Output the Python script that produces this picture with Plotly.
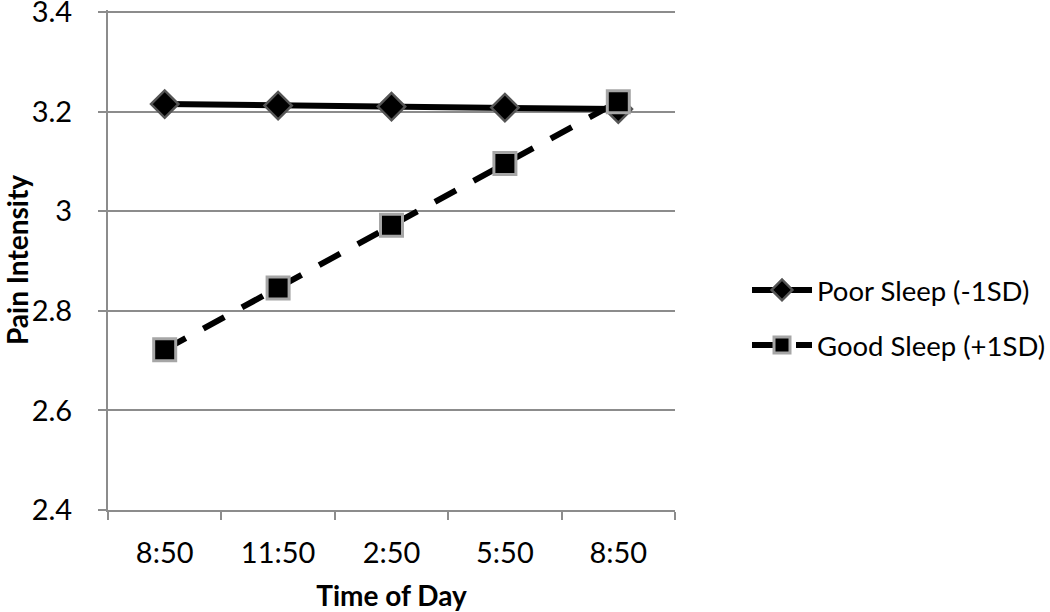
import plotly.graph_objects as go

time_labels = ["8:50", "11:50", "2:50", "5:50", "8:50"]
time_index = [0, 1, 2, 3, 4]
poor_sleep = [3.215, 3.212, 3.210, 3.208, 3.205]
good_sleep = [2.722, 2.846, 2.972, 3.096, 3.220]
y_ticks = [2.4, 2.6, 2.8, 3.0, 3.2, 3.4]
y_tick_labels = ["2.4", "2.6", "2.8", "3", "3.2", "3.4"]

font_family = "Lato, 'Open Sans', sans-serif"
grey = "#8c8c8c"

fig = go.Figure()
fig.add_trace(go.Scatter(
    x=time_index, y=poor_sleep, mode="lines+markers", name="Poor Sleep (-1SD)",
    line=dict(color="black", width=6),
    marker=dict(symbol="diamond", size=21, color="black", line=dict(color="#555555", width=2.5)),
    legend="legend", showlegend=True,
))
fig.add_trace(go.Scatter(
    x=time_index, y=good_sleep, mode="lines+markers", name="Good Sleep (+1SD)",
    line=dict(color="black", width=6, dash="24px,20px"),
    marker=dict(symbol="square", size=22, color="black", line=dict(color="#a6a6a6", width=3)),
    legend="legend2", showlegend=True,
))

fig.update_layout(
    width=1050, height=612, showlegend=True,
    margin=dict(l=108, r=375, t=10, b=102, autoexpand=False),
    paper_bgcolor="white", plot_bgcolor="white",
    font=dict(family=font_family, size=29, color="black"),
    legend=dict(x=1.127, y=0.44, xanchor="left", yanchor="middle", bgcolor="rgba(0,0,0,0)",
                font=dict(size=27.5), itemwidth=60),
    legend2=dict(x=1.127, y=0.33, xanchor="left", yanchor="middle", bgcolor="rgba(0,0,0,0)",
                 font=dict(size=27.5), itemwidth=60),
    xaxis=dict(
        range=[-0.5, 4.5], tickvals=time_index, ticktext=time_labels, ticks="",
        minor=dict(tick0=-0.5, dtick=1, ticks="outside", ticklen=8, tickcolor=grey, tickwidth=2, showgrid=False),
        showgrid=False, showline=True, linecolor=grey, linewidth=2, zeroline=False,
        title=dict(text="<b>Time of Day</b>", font=dict(size=28), standoff=20),
        tickfont=dict(size=29), ticklabelstandoff=16, automargin=False,
    ),
    yaxis=dict(
        range=[2.4, 3.404], tickvals=y_ticks, ticktext=y_tick_labels,
        ticks="outside", ticklen=8, tickcolor=grey, tickwidth=2,
        showgrid=True, gridcolor=grey, gridwidth=2,
        showline=True, linecolor=grey, linewidth=2, zeroline=False,
        title=dict(text="<b>Pain Intensity</b>", font=dict(size=28), standoff=22),
        tickfont=dict(size=29), ticklabelstandoff=20, automargin=False,
        ticklabeloverflow="allow",
    ),
)

fig.write_html("out.html", config={"displayModeBar": False},
               post_script="document.body.style.margin='0';")
